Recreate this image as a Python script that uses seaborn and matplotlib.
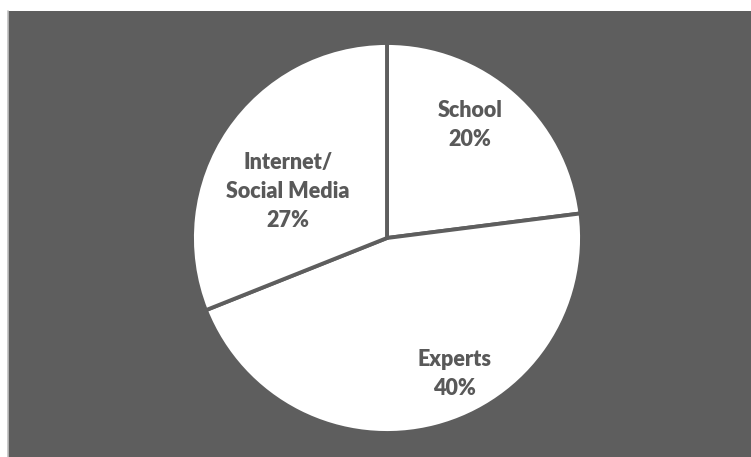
import matplotlib
matplotlib.use("Agg")
import matplotlib.pyplot as plt
import seaborn as sns
import numpy as np
from matplotlib.patches import Rectangle
from matplotlib.lines import Line2D

# Where people get their information
categories = ["School", "Experts", "Internet/\nSocial Media"]
shares = [20, 40, 27]
pct_labels = ["20%", "40%", "27%"]

sns.set_theme(style="white")
plt.rcParams["font.family"] = ["Lato", "DejaVu Sans"]

W, H = 751, 457
BG = "#5e5e5e"
TEXT = "#595959"

fig = plt.figure(figsize=(W / 100, H / 100), dpi=100)
fig.patch.set_facecolor("white")

# dark panel behind the pie, with a thin light rule on its left side
panel_left = 8 / W
panel_top = (H - 11) / H
fig.add_artist(Rectangle((panel_left, 0), 1 - panel_left, panel_top,
                         transform=fig.transFigure, facecolor=BG,
                         edgecolor="none", zorder=0))
fig.add_artist(Line2D([panel_left, panel_left], [0, panel_top],
                      transform=fig.transFigure, color="#c0c0c0", lw=1.2,
                      zorder=1))

# square axes holding the pie
cx, cy, r = 387, 238, 195
ax = fig.add_axes([(cx - r) / W, (H - cy - r) / H, 2 * r / W, 2 * r / H])
wedges, _ = ax.pie(shares, startangle=90, counterclock=False,
                   colors=["white"] * len(shares), radius=1,
                   wedgeprops=dict(edgecolor=BG, linewidth=2.8))
ax.set_xlim(-1, 1)
ax.set_ylim(-1, 1)
ax.set_aspect("equal")
ax.axis("off")

# category name and share inside each slice (radius, angular nudge in deg)
label_place = [(0.72, 5), (0.78, 12), (0.56, 9)]
for w, cat, pct, (rr, nudge) in zip(wedges, categories, pct_labels, label_place):
    mid = np.deg2rad((w.theta1 + w.theta2) / 2 + nudge)
    ax.text(rr * np.cos(mid), rr * np.sin(mid), f"{cat}\n{pct}",
            ha="center", va="center", fontsize=15.5, fontweight="heavy",
            color=TEXT, linespacing=1.45)

fig.savefig("out.png", dpi=100, facecolor=fig.get_facecolor())
